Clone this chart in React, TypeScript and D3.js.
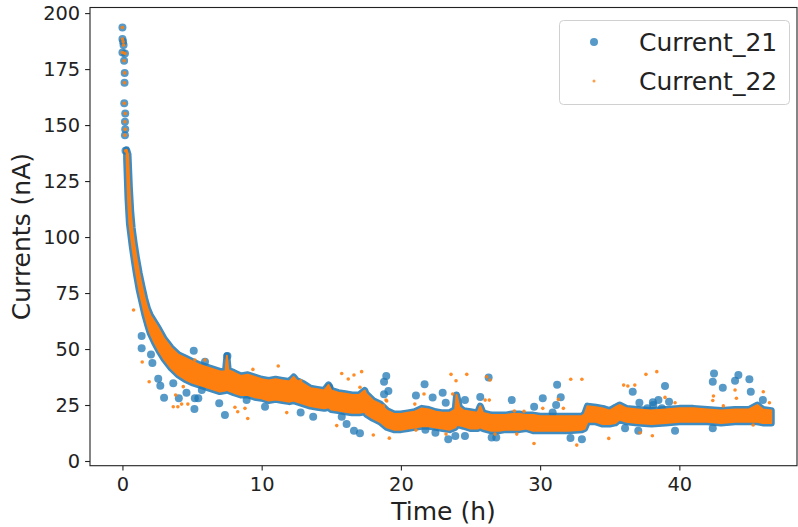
import React, { useEffect, useRef } from 'react';
import * as d3 from 'd3';

const width = 798;
const height = 527;

const seriesNames = ['Current_21', 'Current_22'];
const xTicks = [0, 10, 20, 30, 40];
const yTicks = [0, 25, 50, 75, 100, 125, 150, 175, 200];

// first readings right after start (both currents read the same here)
const startTime = [0.0, 0.0, 0.05, 0.08, 0.0, 0.18, 0.12, 0.16, 0.15, 0.13, 0.2, 0.18, 0.2, 0.18, 0.22];
const startCurrent = [193.6, 188.4, 187.2, 185.7, 182.4, 182, 178.7, 173.3, 168.9, 159.7, 155.2, 151.5, 148.1, 145.5, 138.5];

// dense core of the readings, low / high edge (h, nA)
const coreTime = [
  0.3, 0.4, 0.5, 0.6, 0.7, 0.85, 1.0, 1.2, 1.4, 1.6, 1.8, 2.0, 2.3, 2.6, 3.0, 3.5, 4.0, 4.5, 5.0, 5.5,
  6.0, 6.5, 7.0, 7.4, 7.5, 7.6, 8.0, 8.5, 9.0, 9.5, 10.0, 10.5, 11.0, 11.5, 12.0, 12.3, 12.5, 13.0, 13.5, 14.0, 14.5, 14.8,
  15.0, 15.5, 16.0, 16.5, 17.0, 17.4, 17.5, 18.0, 18.5, 19.0, 19.5, 20.0, 20.5, 21.0, 21.5, 22.0, 22.5, 23.0, 23.5, 23.9, 24.0,
  24.2, 24.5, 25.0, 25.5, 25.7, 25.9, 26.5, 27.0, 27.5, 28.0, 28.5, 29.0, 29.5, 30.0, 31.0, 32.0, 33.0, 33.2, 33.4, 34.0,
  34.5, 35.0, 35.4, 35.7, 36.2, 37.0, 38.0, 39.0, 40.0, 41.0, 42.0, 43.0, 44.0, 45.0, 45.6, 46.0, 46.6,
];
const coreLow = [
  135, 117, 106, 101, 96, 89.5, 83.5, 76.5, 71, 65.5, 61, 57, 53, 49.5, 45.5, 41.5, 38.5, 36.5, 35, 34,
  33, 32, 31, 31.5, 32, 31.5, 30.5, 29.5, 29.5, 28.5, 28, 27, 27.5, 27, 26.5, 27, 26.5, 25.5, 24.5, 24, 23.5, 24,
  23, 22.5, 22, 21.5, 21.5, 22, 21, 19, 17.5, 15, 14, 14, 14.5, 15, 15.5, 15.5, 15, 14.5, 14, 15, 16,
  16, 15.5, 14.5, 14.5, 15, 14.5, 13.5, 13.5, 14, 14, 14, 14.5, 13.5, 13.5, 13.5, 13.5, 14, 14.5, 17.5, 17.5,
  16.5, 16.5, 17, 18.5, 17.5, 17, 16.5, 17, 17.5, 17.5, 17.5, 17, 17.5, 17.5, 17.5, 17, 17,
];
const coreHigh = [
  139, 137, 122, 111, 104, 97, 91, 84, 78, 72.5, 68, 65, 62, 59, 54.5, 50.5, 47.5, 46, 44.5, 43,
  42, 41, 40, 40, 47, 40.5, 39.5, 38, 38.5, 37.5, 36.5, 36, 36.5, 36, 35.5, 37.5, 36, 34.5, 32.5, 32, 31.5, 34,
  31.5, 30.5, 30, 29.5, 29.5, 31.5, 30, 27, 25.5, 22.5, 21, 21, 21.5, 22, 23.5, 23, 22, 21.5, 21.5, 23, 29.5,
  24, 22.5, 22, 21.5, 24.5, 21.5, 20.5, 20.5, 20.5, 21, 21, 20.5, 20.5, 20, 20, 20, 20, 21, 24.5, 24,
  23.5, 22.5, 24, 25, 23.5, 23, 22.5, 23, 23.5, 23.5, 23, 22.5, 23, 23, 25, 23, 22.5,
];

// scattered readings away from the core [h, nA]
const outlier21 = [
  [1.38, 55.8], [1.38, 50.3], [2.05, 47.5], [2.15, 43.8], [2.57, 36.7], [2.72, 33.6], [2.99, 28.2], [3.65, 34.7],
  [4.05, 28], [4.6, 30.5], [5.12, 49.2], [5.17, 23.2], [5.2, 28], [5.45, 28], [5.7, 31.7], [5.93, 44.3],
  [6.95, 25.8], [7.36, 20.5], [7.54, 46.9], [8.92, 27.2], [10.24, 24.2], [12.8, 21.6], [13.7, 19.8], [14.86, 32.9],
  [15.75, 19.8], [16.1, 16.5], [16.63, 13.5], [17.06, 12.4], [18.79, 35.4], [18.95, 38], [19.1, 31.2], [18.79, 29.8],
  [21.08, 29.3], [21.7, 34.3], [22.28, 28.4], [23.0, 30.5], [23.22, 26], [21.76, 14], [22.48, 12.6], [23.4, 9.7],
  [23.91, 11.2], [24.6, 11.2], [24.6, 27.2], [25.7, 28.6], [26.3, 37.3], [26.52, 10.5], [26.85, 10.5], [27.96, 27.2],
  [29.57, 24.2], [30.19, 28], [30.9, 21.6], [31.15, 25], [31.22, 34], [31.48, 28.5], [32.18, 10.3], [33.0, 9.7],
  [36.1, 14.6], [36.65, 30.9], [37.05, 13.5], [37.13, 26], [37.7, 23.5], [38.1, 26.2], [38.13, 25], [38.5, 27.2],
  [38.74, 23.5], [38.97, 33.5], [39.26, 26.5], [39.69, 13.5], [42.4, 14.6], [42.4, 35.4], [42.49, 39.1], [43.12, 32.7],
  [44.0, 35.8], [44.24, 38.4], [45.03, 36.5], [45.13, 30.9], [46.0, 27.2],
];
const outlier22 = [
  [0.8, 67.4], [1.42, 44.2], [1.92, 35.4], [2.46, 58.5], [3.65, 24.2], [3.82, 29.5], [3.98, 24.2], [4.25, 25.4],
  [4.37, 33.2], [4.7, 25.4], [5.2, 45.1], [5.93, 45.1], [8.08, 24], [8.28, 22], [8.8, 23.5], [9.0, 19],
  [9.37, 40.9], [11.19, 42.4], [11.8, 21.6], [12.8, 35.8], [15.39, 15.8], [15.75, 39.1], [16.22, 36.6], [16.63, 38.4],
  [17.06, 32.9], [17.18, 39.9], [18.02, 11.6], [18.74, 24.6], [18.93, 27.2], [18.98, 26.8], [19.17, 10.2], [21.0, 25.4],
  [21.08, 13.8], [21.66, 29.9], [23.24, 12], [23.6, 38.7], [23.72, 29.9], [23.96, 35.8], [24.73, 38.7], [26.05, 27.2],
  [26.16, 37.6], [26.35, 27.2], [26.4, 36.2], [26.76, 12], [28.15, 22.3], [28.32, 12], [28.84, 22.2], [29.56, 7.8],
  [30.19, 23.5], [31.31, 27.5], [31.67, 23.5], [32.2, 36.5], [32.63, 7.1], [33.0, 36.5], [34.93, 10.1], [36.0, 33.9],
  [36.3, 33.5], [36.8, 33.9], [37.18, 12.6], [37.6, 38.7], [38.06, 11.3], [38.38, 39.9], [38.97, 28.4], [39.69, 26],
  [42.4, 27], [42.45, 29], [43.16, 24.6], [44.0, 31.7], [44.1, 28], [45.3, 16.1], [46.03, 30.9], [46.47, 26],
];

const blue = '#1f77b4';
const orange = '#ff7f0e';
const font = 'DejaVu Sans, sans-serif';

const App = () => {
  const ref = useRef(null);

  useEffect(() => {
    const svg = d3.select(ref.current);
    svg.selectAll('*').remove();

    // plot frame
    const left = 90, right = 797, top = 7.5, bottom = 465.7;
    const x = d3.scaleLinear().domain([-2.33, 48.45]).range([left, right]);
    const y = d3.scaleLinear().domain([-2.1, 202.5]).range([bottom, top]);

    const plot = svg.append('g');

    const core = coreTime.map((t, i) => ({ t, lo: coreLow[i], hi: coreHigh[i] }));
    const area = d3
      .area()
      .x((d) => x(d.t))
      .y0((d) => y(d.lo))
      .y1((d) => y(d.hi));

    const start = startTime.map((t, i) => [t, startCurrent[i]]);

    // Current_21 (big markers)
    plot
      .append('path')
      .attr('d', area(core))
      .attr('fill', blue)
      .attr('stroke', blue)
      .attr('stroke-width', 7)
      .attr('stroke-linejoin', 'round')
      .attr('opacity', 0.85);
    plot
      .selectAll('circle.c21')
      .data(outlier21.concat(start))
      .enter()
      .append('circle')
      .attr('cx', (d) => x(d[0]))
      .attr('cy', (d) => y(d[1]))
      .attr('r', 4)
      .attr('fill', blue)
      .attr('fill-opacity', 0.75);

    // Current_22 (small markers)
    plot
      .append('path')
      .attr('d', area(core))
      .attr('fill', orange)
      .attr('stroke', orange)
      .attr('stroke-width', 2)
      .attr('stroke-linejoin', 'round');
    plot
      .selectAll('circle.c22')
      .data(outlier22.concat(start))
      .enter()
      .append('circle')
      .attr('cx', (d) => x(d[0]))
      .attr('cy', (d) => y(d[1]))
      .attr('r', 1.8)
      .attr('fill', orange)
      .attr('fill-opacity', 0.9);

    // axes
    const xAxis = svg
      .append('g')
      .attr('transform', `translate(0,${bottom})`)
      .call(d3.axisBottom(x).tickValues(xTicks).tickSize(4.9).tickPadding(6.5).tickSizeOuter(0));
    const yAxis = svg
      .append('g')
      .attr('transform', `translate(${left},0)`)
      .call(d3.axisLeft(y).tickValues(yTicks).tickSize(4.9).tickPadding(4.9).tickSizeOuter(0));
    [xAxis, yAxis].forEach((g) => {
      g.select('.domain').remove();
      g.selectAll('line').attr('stroke', '#222').attr('stroke-width', 1.1);
      g.selectAll('text').attr('font-family', font).attr('font-size', 19.4).attr('fill', '#222');
    });

    svg
      .append('rect')
      .attr('x', left)
      .attr('y', top)
      .attr('width', right - left)
      .attr('height', bottom - top)
      .attr('fill', 'none')
      .attr('stroke', '#222')
      .attr('stroke-width', 1.1);

    // axis labels
    svg
      .append('text')
      .attr('x', (left + right) / 2)
      .attr('y', 520)
      .attr('text-anchor', 'middle')
      .attr('font-family', font)
      .attr('font-size', 25)
      .attr('fill', '#222')
      .text('Time (h)');
    svg
      .append('text')
      .attr('transform', `translate(30,${(top + bottom) / 2}) rotate(-90)`)
      .attr('text-anchor', 'middle')
      .attr('font-family', font)
      .attr('font-size', 25)
      .attr('fill', '#222')
      .text('Currents (nA)');

    // legend
    const legend = svg.append('g');
    legend
      .append('rect')
      .attr('x', 559.5)
      .attr('y', 20.5)
      .attr('width', 230)
      .attr('height', 84)
      .attr('rx', 4)
      .attr('fill', 'white')
      .attr('fill-opacity', 0.8)
      .attr('stroke', '#d0d0d0');
    const items = legend
      .selectAll('g.item')
      .data(seriesNames)
      .enter()
      .append('g')
      .attr('transform', (d, i) => `translate(0,${i * 39})`);
    items
      .append('circle')
      .attr('cx', 594)
      .attr('cy', 42)
      .attr('r', (d, i) => (i === 0 ? 4 : 1.5))
      .attr('fill', (d, i) => (i === 0 ? blue : orange))
      .attr('fill-opacity', 0.75);
    items
      .append('text')
      .attr('x', 639)
      .attr('y', 50.5)
      .attr('font-family', font)
      .attr('font-size', 25)
      .attr('fill', '#222')
      .text((d) => d);
  }, []);

  return (
    <svg
      ref={ref}
      width={width}
      height={height}
      style={{ position: 'absolute', left: 0, top: 0, background: 'white' }}
    />
  );
};

export default App;
